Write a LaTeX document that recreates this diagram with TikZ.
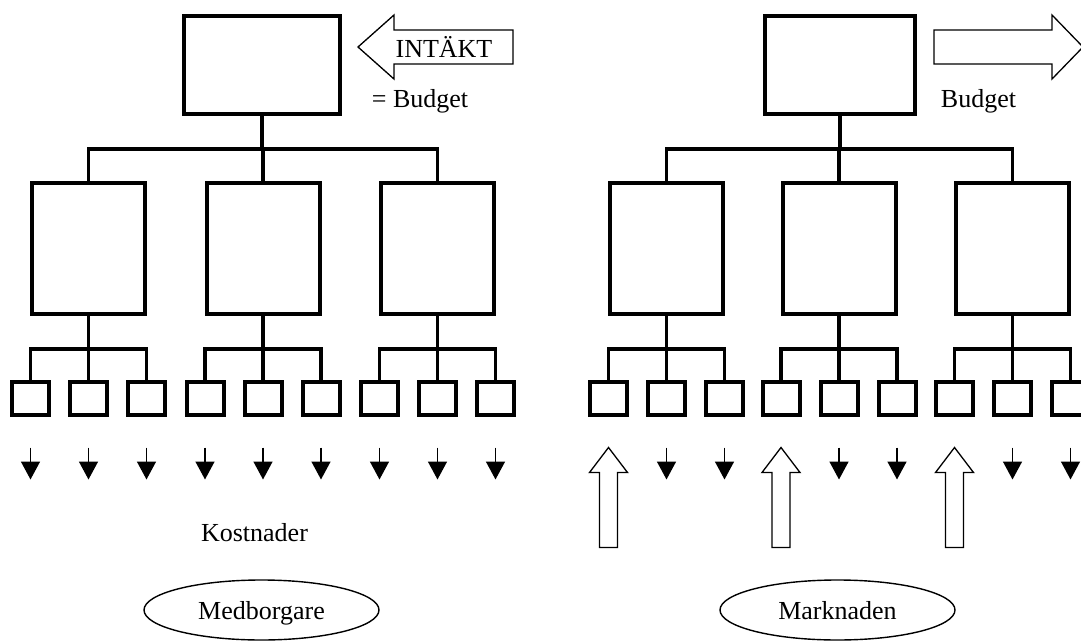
\documentclass[tikz,border=0pt]{standalone}
\usepackage{fontspec}
\setmainfont{Liberation Serif}
\usetikzlibrary{arrows.meta,shapes.geometric}
\begin{document}
\begin{tikzpicture}[x=1pt,y=-1pt,
  lbl/.style={font=\fontsize{26}{30}\selectfont,inner sep=0pt},
  topbox/.style={draw,line width=4pt,minimum width=#1,minimum height=98pt,inner sep=0pt},
  midbox/.style={draw,line width=4pt,minimum width=113pt,minimum height=131pt,inner sep=0pt},
  smallbox/.style={draw,line width=4pt,minimum width=37pt,minimum height=33pt,inner sep=0pt},
  wire/.style={line width=3.5pt,line join=miter},
  drop/.style={line width=1.6pt,-{Triangle[width=19pt,length=18pt]}},
  hollow/.style={draw,line width=1.3pt,fill=white,line join=miter},
  oval/.style={ellipse,draw,line width=1.4pt,minimum width=235pt,minimum height=60pt,
    inner sep=0pt,text height=18pt,text depth=0pt,font=\fontsize{26}{30}\selectfont}]
\useasboundingbox (0,0) rectangle (1081,642);
\begin{scope}
\clip (0,0) rectangle (1081,642);

% ---------- left organisation ----------
\node[topbox=156pt] (LT) at (262,65) {};
\node[midbox] (LM1) at (88.5,248) {};
\node[midbox] (LM2) at (263,248) {};
\node[midbox] (LM3) at (437.5,248) {};
\foreach \g/\x in {1/88.5,2/263,3/437.5}{
  \node[smallbox] (LS\g1) at (\x-58,398) {};
  \node[smallbox] (LS\g2) at (\x,398) {};
  \node[smallbox] (LS\g3) at (\x+58,398) {};
}
\coordinate (LJ) at (262,149);
\draw[wire] (LM1.north) -- (LM1.north |- LJ) -- (LM3.north |- LJ) -- (LM3.north);
\draw[wire] (LT.south) -- (LT.south |- LJ);
\draw[wire] (LM2.north) -- (LM2.north |- LJ);
\coordinate (LK) at (0,349);
\foreach \g in {1,2,3}{
  \draw[wire] (LS\g1.north) -- (LS\g1.north |- LK) -- (LS\g3.north |- LK) -- (LS\g3.north);
  \draw[wire] (LM\g.south) -- (LS\g2.north);
}
% costs flowing out
\foreach \g in {1,2,3}{
  \foreach \k in {1,2,3}{
    \coordinate (LA\g\k s) at ([yshift=-31pt]LS\g\k.south);
    \coordinate (LA\g\k e) at ([yshift=-63pt]LS\g\k.south);
    \draw[drop] (LA\g\k s) -- (LA\g\k e);
  }
}
% income arrow
\coordinate (IT) at (358,47);
\draw[hollow] (IT) -- (394,15) -- (394,30) -- (513,30) -- (513,64) -- (394,64) -- (394,79) -- cycle;
\node[lbl,anchor=base] (IN) at (444,58) {INTÄKT};
\node[lbl,anchor=base] (LB) at (420,107) {= Budget};
\node[lbl,anchor=base] (KO) at (254.5,541) {Kostnader};
\node[oval] (MB) at (261.5,610) {Medborgare};

% ---------- right organisation ----------
\node[topbox=150pt] (RT) at (840,65) {};
\node[midbox] (RM1) at (666.5,248) {};
\node[midbox] (RM2) at (839,248) {};
\node[midbox] (RM3) at (1012.5,248) {};
\foreach \g/\x in {1/666.5,2/839,3/1012.5}{
  \node[smallbox] (RS\g1) at (\x-58,398) {};
  \node[smallbox] (RS\g2) at (\x,398) {};
  \node[smallbox] (RS\g3) at (\x+58,398) {};
}
\coordinate (RJ) at (840,149);
\draw[wire] (RM1.north) -- (RM1.north |- RJ) -- (RM3.north |- RJ) -- (RM3.north);
\draw[wire] (RT.south) -- (RT.south |- RJ);
\draw[wire] (RM2.north) -- (RM2.north |- RJ);
\coordinate (RK) at (0,349);
\foreach \g in {1,2,3}{
  \draw[wire] (RS\g1.north) -- (RS\g1.north |- RK) -- (RS\g3.north |- RK) -- (RS\g3.north);
  \draw[wire] (RM\g.south) -- (RS\g2.north);
}
% costs out, revenue in from the market
\foreach \g in {1,2,3}{
  \foreach \k in {2,3}{
    \coordinate (RA\g\k s) at ([yshift=-31pt]RS\g\k.south);
    \coordinate (RA\g\k e) at ([yshift=-63pt]RS\g\k.south);
    \draw[drop] (RA\g\k s) -- (RA\g\k e);
  }
  \coordinate (RU\g) at ([yshift=-31pt]RS\g1.south);
  \draw[hollow] (RU\g) -- ++(19,25) -- ++(-10,0) -- ++(0,75) -- ++(-18,0)
    -- ++(0,-75) -- ++(-10,0) -- cycle;
}
% budget arrow
\coordinate (BT) at (1083,47);
\draw[hollow] (934,30) -- (1052,30) -- (1052,15) -- (BT) -- (1052,79) -- (1052,64) -- (934,64) -- cycle;
\node[lbl,anchor=base] (RB) at (978.5,107) {Budget};
\node[oval] (MK) at (837.5,610) {Marknaden};
\end{scope}
\end{tikzpicture}
\end{document}
